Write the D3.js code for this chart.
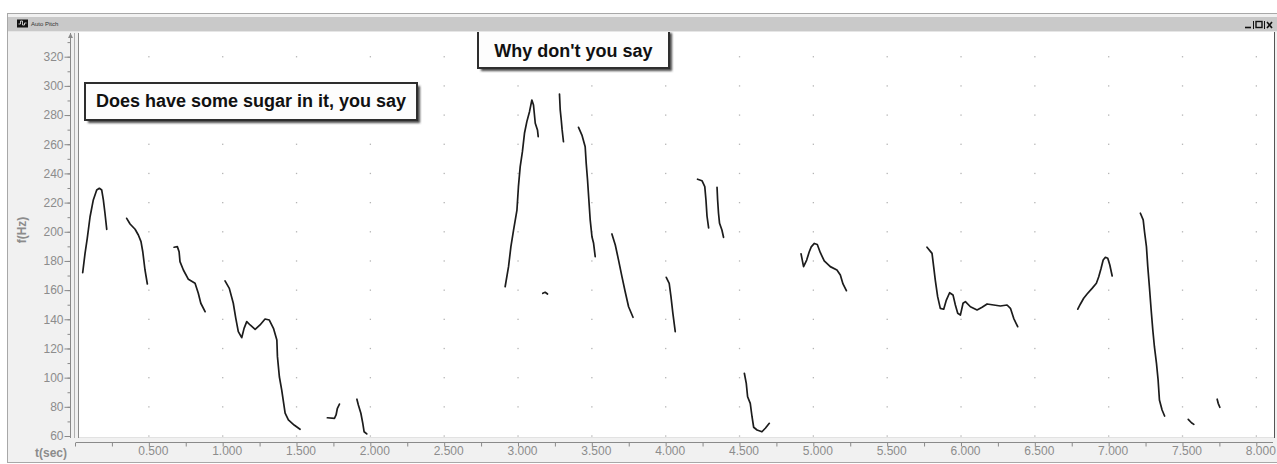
<!DOCTYPE html>
<html>
<head>
<meta charset="utf-8">
<script src="https://cdn.jsdelivr.net/npm/d3@7"></script>
<style>
  html, body { margin: 0; padding: 0; background: #ffffff; }
  svg { display: block; }
  text { font-family: "Liberation Sans", Arial, sans-serif; }
</style>
</head>
<body>
<svg id="chart" width="1277" height="464"></svg>
<script>
// Pitch track (time in seconds, fundamental frequency in Hz), one array per voiced stretch
const seg01 = [[0.052,171.9],[0.068,185.2],[0.083,195.5],[0.102,210.3],[0.124,221.8],[0.147,228.6],[0.165,229.8],[0.181,228.6],[0.192,221.8],[0.203,212.7],[0.215,201.7]];
const seg02 = [[0.350,209.2],[0.373,205.3],[0.407,201.7],[0.429,197.8],[0.447,193.2],[0.459,186.3],[0.474,173.8],[0.490,164.2]];
const seg03 = [[0.671,189.4],[0.693,189.8],[0.705,186.3],[0.711,179.5],[0.734,173.8],[0.768,167.4],[0.813,164.7],[0.835,157.8],[0.852,151.0],[0.881,145.2]];
const seg04 = [[1.016,166.3],[1.045,161.2],[1.072,151.0],[1.089,140.7],[1.106,131.5],[1.129,127.4],[1.145,133.8],[1.163,138.4],[1.186,136.1],[1.220,133.1],[1.253,136.1],[1.287,140.2],[1.316,139.5],[1.344,133.8],[1.367,125.8],[1.371,114.4],[1.384,100.6],[1.400,91.5],[1.423,75.6],[1.445,71.0],[1.484,67.5],[1.524,64.6]];
const seg05 = [[1.709,72.5],[1.757,72.1],[1.768,74.4],[1.777,79.0],[1.791,81.9]];
const seg06 = [[1.909,85.2],[1.919,81.2],[1.936,75.6],[1.949,68.7],[1.958,62.9],[1.976,61.4]];
const seg07 = [[2.913,162.3],[2.936,176.1],[2.952,189.8],[2.970,201.2],[2.993,214.9],[3.003,230.9],[3.015,244.6],[3.030,254.9],[3.044,267.5],[3.060,275.5],[3.078,282.3],[3.094,290.3],[3.105,286.9],[3.117,274.4],[3.132,269.8],[3.137,265.2]];
const seg08 = [[3.168,157.8],[3.184,158.5],[3.200,157.3]];
const seg09 = [[3.281,294.4],[3.286,283.5],[3.293,276.6],[3.299,269.8],[3.308,261.7]];
const seg10 = [[3.410,271.6],[3.433,266.3],[3.455,258.3],[3.462,246.9],[3.471,235.5],[3.480,221.8],[3.489,208.1],[3.501,196.6],[3.512,192.1],[3.523,182.9]];
const seg11 = [[3.636,198.5],[3.659,190.9],[3.681,180.6],[3.704,169.2],[3.726,158.9],[3.749,148.6],[3.779,141.4]];
const seg12 = [[4.004,168.8],[4.024,164.7],[4.036,155.5],[4.049,144.1],[4.065,131.5]];
const seg13 = [[4.216,236.0],[4.246,235.0],[4.265,230.9],[4.273,221.8],[4.280,210.8],[4.291,202.6]];
const seg14 = [[4.348,230.5],[4.352,221.8],[4.358,212.7],[4.365,205.8],[4.381,201.2],[4.392,196.2]];
const seg15 = [[4.533,103.0],[4.546,96.1],[4.555,86.9],[4.573,82.4],[4.585,73.2],[4.596,66.0],[4.619,64.1],[4.652,62.9],[4.675,65.3],[4.702,68.7]];
const seg16 = [[4.917,184.8],[4.934,176.1],[4.955,180.6],[4.972,186.1],[4.986,189.6],[5.007,192.0],[5.027,191.3],[5.047,185.8],[5.074,180.0],[5.115,176.1],[5.160,173.8],[5.183,170.4],[5.201,164.2],[5.224,159.6]];
const seg17 = [[5.770,189.4],[5.804,185.2],[5.815,176.1],[5.826,166.9],[5.842,155.5],[5.860,147.5],[5.883,146.9],[5.901,153.2],[5.923,158.2],[5.946,156.7],[5.962,149.8],[5.978,144.1],[5.996,142.9],[6.014,151.0],[6.030,152.1],[6.064,148.6],[6.109,146.4],[6.143,148.2],[6.177,150.5],[6.222,149.8],[6.267,149.1],[6.312,149.8],[6.335,147.5],[6.357,140.7],[6.384,134.9]];
const seg18 = [[6.791,146.9],[6.809,150.5],[6.831,154.4],[6.854,157.3],[6.888,161.2],[6.917,164.7],[6.933,169.2],[6.949,175.0],[6.963,180.6],[6.978,182.5],[6.994,181.8],[7.008,177.2],[7.024,169.7]];
const seg19 = [[7.215,212.7],[7.234,208.1],[7.243,200.0],[7.256,189.8],[7.265,176.1],[7.276,162.3],[7.288,146.4],[7.299,132.7],[7.310,121.2],[7.324,109.8],[7.335,98.4],[7.344,84.7],[7.362,77.8],[7.379,73.7]];
const seg20 = [[7.539,71.4],[7.561,69.1],[7.577,68.0]];
const seg21 = [[7.735,85.2],[7.742,82.4],[7.753,79.7]];
const contours = [seg01, seg02, seg03, seg04, seg05, seg06, seg07, seg08, seg09, seg10, seg11,
                  seg12, seg13, seg14, seg15, seg16, seg17, seg18, seg19, seg20, seg21];

// Axis ticks
const timeMajor = d3.range(0.5, 8.01, 0.5);
const timeMinor = d3.range(0, 8.01, 0.25);
const freqMajor = d3.range(60, 321, 20);
const freqMinor = d3.range(60, 331, 10);

// Transcript callouts
const phraseOne = "Does have some sugar in it, you say";
const phraseTwo = "Why don't you say";

const svg = d3.select("#chart");

const x = d3.scaleLinear().domain([0, 8]).range([75, 1256.3]);
const y = d3.scaleLinear().domain([60, 320]).range([436, 56.7]);

// ---- window frame ----
svg.append("rect").attr("x", 7.5).attr("y", 13.5).attr("width", 1275).attr("height", 449)
  .attr("fill", "#f1f1f1").attr("stroke", "#a8a8a8");
svg.append("rect").attr("x", 8).attr("y", 17).attr("width", 1269).attr("height", 14)
  .attr("fill", "#c9c9c9");
svg.append("line").attr("x1", 8).attr("x2", 1277).attr("y1", 31.5).attr("y2", 31.5)
  .attr("stroke", "#e6e6e6");
// title bar icon and caption
svg.append("rect").attr("x", 17).attr("y", 19.5).attr("width", 11).attr("height", 8).attr("fill", "#111");
svg.append("path").attr("d", "M18.5,24 h2 v-3 h2 v4 h2 v-2 h2").attr("fill", "none").attr("stroke", "#eee").attr("stroke-width", 0.8);
svg.append("text").attr("x", 31).attr("y", 26).attr("font-size", 6).attr("fill", "#333").text("Auto Pitch");
// window buttons
const btn = svg.append("g").attr("stroke", "#111").attr("fill", "none");
btn.append("line").attr("x1", 1245).attr("x2", 1251).attr("y1", 27.5).attr("y2", 27.5).attr("stroke-width", 1.6);
btn.append("line").attr("x1", 1253.5).attr("x2", 1253.5).attr("y1", 21).attr("y2", 29);
btn.append("rect").attr("x", 1256).attr("y", 21.5).attr("width", 6).attr("height", 6).attr("stroke-width", 1.4);
btn.append("line").attr("x1", 1264.5).attr("x2", 1264.5).attr("y1", 21).attr("y2", 29);
btn.append("path").attr("d", "M1267,22 l5,6 M1272,22 l-5,6").attr("stroke-width", 1.6);

// ---- plot area ----
svg.append("rect").attr("x", 79).attr("y", 32).attr("width", 1195).attr("height", 405).attr("fill", "#ffffff");
svg.append("line").attr("x1", 79).attr("x2", 1274).attr("y1", 437.5).attr("y2", 437.5).attr("stroke", "#e2e2e2");
svg.append("line").attr("x1", 1274.5).attr("x2", 1274.5).attr("y1", 32).attr("y2", 438).attr("stroke", "#555");
svg.append("line").attr("x1", 74.5).attr("x2", 74.5).attr("y1", 33).attr("y2", 438).attr("stroke", "#b0b0b0");
svg.append("line").attr("x1", 78.5).attr("x2", 78.5).attr("y1", 33).attr("y2", 438).attr("stroke", "#8a8a8a");

// grid of dots
const dots = [];
timeMajor.forEach(t => freqMajor.forEach(f => dots.push([t, f])));
svg.append("g").selectAll("rect").data(dots).join("rect")
  .attr("x", d => x(d[0]) - 0.6).attr("y", d => y(d[1]) - 0.6)
  .attr("width", 1.3).attr("height", 1.3).attr("fill", "#b4b4b4");

// ---- y axis ----
const yMinor = svg.append("g").attr("transform", "translate(70.5,0)")
  .call(d3.axisLeft(y).tickValues(freqMinor).tickSize(3).tickFormat(""));
const yMajor = svg.append("g").attr("transform", "translate(70.5,0)")
  .call(d3.axisLeft(y).tickValues(freqMajor).tickSize(6).tickPadding(1).tickFormat(d3.format("d")));
[yMinor, yMajor].forEach(g => {
  g.select(".domain").remove();
  g.selectAll("line").attr("stroke", "#8a8a8a");
});
yMajor.selectAll("text").attr("fill", "#8c8c8c").attr("font-size", 12)
  .attr("font-family", "'Liberation Sans', Arial, sans-serif");
svg.append("line").attr("x1", 70.5).attr("x2", 70.5).attr("y1", 33).attr("y2", 438).attr("stroke", "#8a8a8a");
svg.append("path").attr("d", "M70.5,33 l-2.5,5 h5 z").attr("fill", "#8a8a8a");
svg.append("text").attr("transform", "translate(26,230) rotate(-90)")
  .attr("text-anchor", "middle").attr("font-size", 12).attr("font-weight", "bold")
  .attr("fill", "#8c8c8c").text("f(Hz)");

// ---- x axis ----
const xMinor = svg.append("g").attr("transform", "translate(0,442.5)")
  .call(d3.axisBottom(x).tickValues(timeMinor).tickSize(4).tickFormat(""));
xMinor.select(".domain").remove();
xMinor.selectAll("line").attr("stroke", "#8a8a8a");
const xMajor = svg.append("g").attr("transform", "translate(0,442.5)")
  .call(d3.axisBottom(x).tickValues(timeMajor).tickSize(0).tickPadding(4).tickFormat(d3.format(".3f")));
xMajor.select(".domain").remove();
xMajor.selectAll("text").attr("fill", "#8c8c8c").attr("font-size", 12).attr("dx", 4)
  .attr("font-family", "'Liberation Sans', Arial, sans-serif");
svg.append("line").attr("x1", 76).attr("x2", 1273).attr("y1", 442.5).attr("y2", 442.5).attr("stroke", "#8a8a8a");
svg.append("text").attr("x", 35).attr("y", 457).attr("font-size", 12).attr("font-weight", "bold")
  .attr("fill", "#8c8c8c").text("t(sec)");

// ---- pitch contours ----
const line = d3.line().x(d => x(d[0])).y(d => y(d[1]));
svg.append("g").selectAll("path").data(contours).join("path")
  .attr("d", line).attr("fill", "none").attr("stroke", "#1c1c1c")
  .attr("stroke-width", 1.7).attr("stroke-linejoin", "round").attr("stroke-linecap", "round");

// ---- callouts ----
const defs = svg.append("defs");
defs.append("filter").attr("id", "soft").attr("x", "-10%").attr("y", "-30%").attr("width", "120%").attr("height", "160%")
  .append("feGaussianBlur").attr("stdDeviation", 1.2);

function callout(x0, y0, w, h, label, baseline) {
  const g = svg.append("g");
  g.append("rect").attr("x", x0 + 3).attr("y", y0 + 3).attr("width", w).attr("height", h)
    .attr("fill", "#4a4a4a").attr("filter", "url(#soft)");
  g.append("rect").attr("x", x0).attr("y", y0).attr("width", w).attr("height", h)
    .attr("fill", "#fdfdfd").attr("stroke", "#2e2e2e").attr("stroke-width", 2);
  g.append("text").attr("x", x0 + w / 2).attr("y", baseline).attr("text-anchor", "middle")
    .attr("font-size", 18).attr("font-weight", "bold").attr("fill", "#111").text(label);
}
callout(85, 83, 332, 37, phraseOne, 107);
callout(478, 30, 191, 38, phraseTwo, 57);
// title bar stays above the upper callout's top edge
svg.append("rect").attr("x", 470).attr("y", 17).attr("width", 210).attr("height", 14).attr("fill", "#c9c9c9");
svg.append("line").attr("x1", 470).attr("x2", 680).attr("y1", 31.5).attr("y2", 31.5).attr("stroke", "#e6e6e6");
</script>
</body>
</html>
